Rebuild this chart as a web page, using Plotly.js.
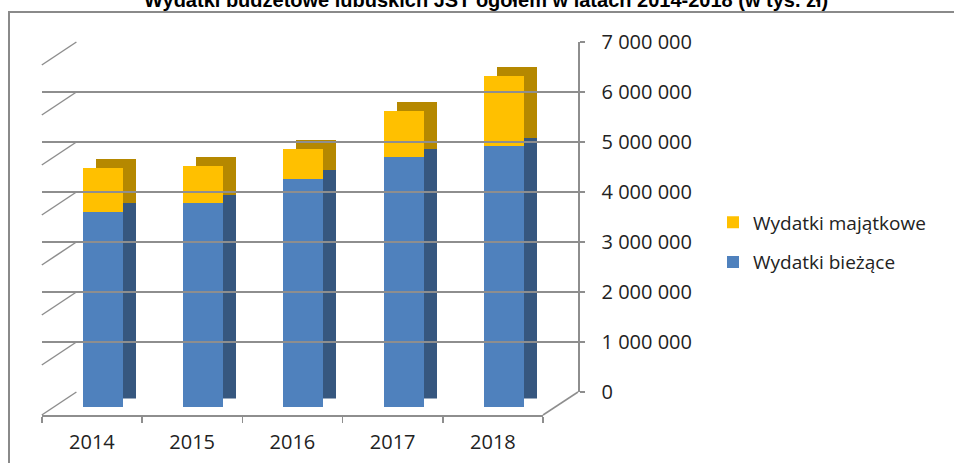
<!DOCTYPE html>
<html>
<head>
<meta charset="utf-8">
<script src="https://cdn.plot.ly/plotly-3.0.1.min.js"></script>
<style>html,body{margin:0;padding:0;background:#fff;}#chart{width:954px;height:463px;}</style>
</head>
<body>
<div id="chart"></div>
<script>
// ---- data ----
const years = ['2014', '2015', '2016', '2017', '2018'];
const wydatkiBiezace = [3910000, 4080000, 4570000, 5000000, 5220000];
const wydatkiMajatkowe = [880000, 750000, 600000, 930000, 1410000];
const tickValues = [0, 1000000, 2000000, 3000000, 4000000, 5000000, 6000000, 7000000];
const tickLabels = ['0', '1 000 000', '2 000 000', '3 000 000', '4 000 000', '5 000 000', '6 000 000', '7 000 000'];
const seriesNames = ['Wydatki bieżące', 'Wydatki majątkowe'];

// ---- layout geometry (pixels) ----
const W = 954, H = 463;
const px = p => p / W;
const py = p => 1 - p / H;
const FONT = '"Open Sans", "Noto Sans", sans-serif';
const GRID = '#8e8e8e';
const YMAX = 7000000;

// back wall
const wallL = 76.4, wallR = 578, wallBottom = 392, wallTop = 42;
// front floor
const floorL = 41.8, floorR = 543, floorY = 415;
// bar front faces
const frontL = 52.6, frontR = 554.1, frontZero = 407.3, frontTop = 57.3;
const depthDX = 13, depthDY = 8.7;

const hidden = {visible: false, fixedrange: true};

const traces = [
  {type: 'scatter', x: [0], y: [0], xaxis: 'x', yaxis: 'y', mode: 'none', showlegend: false, hoverinfo: 'skip'},
  // back (depth) faces
  {type: 'bar', x: years, y: wydatkiBiezace, xaxis: 'x2', yaxis: 'y2', width: 0.4,
   marker: {color: '#36577f'}, showlegend: false, hoverinfo: 'skip'},
  {type: 'bar', x: years, y: wydatkiMajatkowe, xaxis: 'x2', yaxis: 'y2', width: 0.4,
   marker: {color: '#b58800'}, showlegend: false, hoverinfo: 'skip'},
  // front faces
  {type: 'bar', name: seriesNames[0], x: years, y: wydatkiBiezace, xaxis: 'x3', yaxis: 'y3', width: 0.4,
   marker: {color: '#4f81bd'}, legendgroup: 'b', legendrank: 2},
  {type: 'bar', name: seriesNames[1], x: years, y: wydatkiMajatkowe, xaxis: 'x3', yaxis: 'y3', width: 0.4,
   marker: {color: '#ffc000'}, legendgroup: 'm', legendrank: 1},
  // category label axis (front floor)
  {type: 'scatter', x: years, y: years.map(() => 0), xaxis: 'x4', yaxis: 'y', mode: 'none', showlegend: false, hoverinfo: 'skip'}
];

// left wall diagonals & floor edges
const wallDY = floorY - wallBottom;
const shapes = tickValues.map(v => {
  const yb = wallBottom - (v / YMAX) * (wallBottom - wallTop);
  return {type: 'line', xref: 'paper', yref: 'paper', x0: px(floorL), y0: py(yb + wallDY), x1: px(wallL), y1: py(yb),
          line: {color: GRID, width: 1.5}, layer: 'below'};
});
shapes.push({type: 'line', xref: 'paper', yref: 'paper', x0: px(floorR), y0: py(floorY), x1: px(wallR), y1: py(wallBottom),
             line: {color: GRID, width: 1.5}, layer: 'below'});
shapes.push({type: 'rect', xref: 'paper', yref: 'paper', x0: px(9), y0: py(12), x1: px(970), y1: py(480),
             line: {color: '#8a8a8a', width: 2}, fillcolor: 'rgba(0,0,0,0)', layer: 'below'});

const layout = {
  width: W, height: H,
  margin: {l: 0, r: 0, t: 0, b: 0, pad: 0},
  paper_bgcolor: '#ffffff', plot_bgcolor: 'rgba(0,0,0,0)',
  barmode: 'stack',
  showlegend: true,
  font: {family: FONT, size: 20, color: '#222'},
  xaxis: {domain: [px(wallL), px(wallR)], range: [0, 1], visible: false, fixedrange: true, anchor: 'y'},
  yaxis: {domain: [py(wallBottom), py(wallTop)], range: [0, YMAX], anchor: 'x', side: 'right',
          tickvals: tickValues, ticktext: tickLabels, showgrid: true, gridcolor: GRID, gridwidth: 1.5,
          zeroline: false, showline: true, linecolor: GRID, linewidth: 1.5,
          ticks: 'outside', ticklen: 5, tickcolor: GRID, tickwidth: 1.5, ticklabelstandoff: 13,
          tickfont: {family: FONT, size: 20, color: '#222'}, fixedrange: true},
  xaxis2: Object.assign({domain: [px(frontL + depthDX), px(frontR + depthDX)], range: [-0.5, 4.5], type: 'category', anchor: 'y2'}, hidden),
  yaxis2: Object.assign({domain: [py(frontZero - depthDY), py(frontTop - depthDY)], range: [0, YMAX], anchor: 'x2'}, hidden),
  xaxis3: Object.assign({domain: [px(frontL), px(frontR)], range: [-0.5, 4.5], type: 'category', anchor: 'y3'}, hidden),
  yaxis3: Object.assign({domain: [py(frontZero), py(frontTop)], range: [0, YMAX], anchor: 'x3'}, hidden),
  xaxis4: {domain: [px(floorL), px(floorR)], range: [-0.5, 4.5], type: 'category', categoryorder: 'array', categoryarray: years,
           anchor: 'free', position: py(floorY), showline: true, linecolor: GRID, linewidth: 1.5,
           ticks: 'outside', tickson: 'boundaries', ticklen: 6, tickcolor: GRID, tickwidth: 1.5,
           showgrid: false, zeroline: false, ticklabelstandoff: 8,
           tickfont: {family: FONT, size: 20, color: '#222'}, fixedrange: true},
  legend: {x: px(713), y: py(242.5), xanchor: 'left', yanchor: 'middle', traceorder: 'grouped', tracegroupgap: 12,
           font: {family: FONT, size: 19, color: '#222'}, bgcolor: 'rgba(0,0,0,0)'},
  annotations: [{text: '<b>Wydatki budżetowe lubuskich JST ogółem w latach 2014-2018 (w tys. zł)</b>', xref: 'paper', yref: 'paper',
                 x: 0.5, y: 1, xanchor: 'center', yanchor: 'middle', xshift: 9, yshift: 0, showarrow: false,
                 font: {family: '"Liberation Sans", Arial, sans-serif', size: 20, color: '#000'}}],
  shapes: shapes
};

Plotly.newPlot('chart', traces, layout, {staticPlot: true, displayModeBar: false});
</script>
</body>
</html>
